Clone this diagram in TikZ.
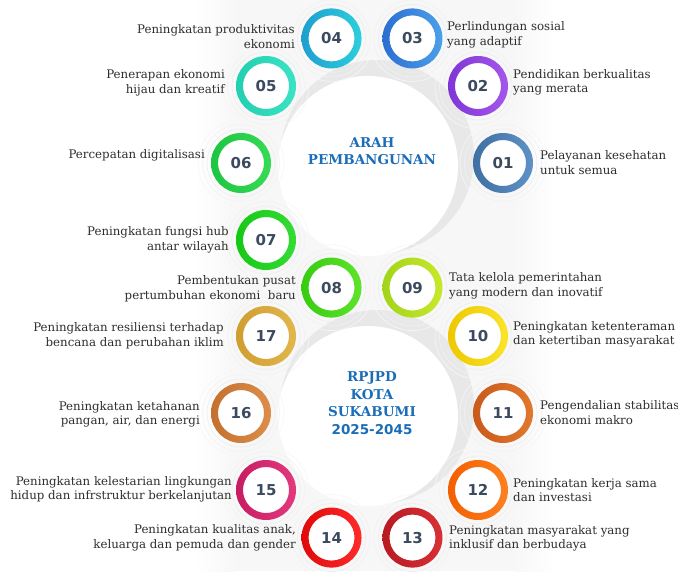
\documentclass[tikz,border=0pt]{standalone}
\usepackage{fontspec}
\setmainfont{DejaVu Serif}
\setsansfont{DejaVu Sans}
\definecolor{txtc}{HTML}{2E2E2E}
\definecolor{numc}{HTML}{3C4A60}
\definecolor{titc}{HTML}{1B6DB8}
\definecolor{c01a}{HTML}{3F6FA3}\definecolor{c01b}{HTML}{5E92C6}
\definecolor{c02a}{HTML}{7F36D6}\definecolor{c02b}{HTML}{A457EC}
\definecolor{c03a}{HTML}{2C6ED2}\definecolor{c03b}{HTML}{4BA0EA}
\definecolor{c04a}{HTML}{1E9FD0}\definecolor{c04b}{HTML}{2CCFDC}
\definecolor{c05a}{HTML}{22CFB0}\definecolor{c05b}{HTML}{3BE3C4}
\definecolor{c06a}{HTML}{1CC640}\definecolor{c06b}{HTML}{36DA55}
\definecolor{c07a}{HTML}{16C816}\definecolor{c07b}{HTML}{34DC34}
\definecolor{c08a}{HTML}{36CC12}\definecolor{c08b}{HTML}{5EE42A}
\definecolor{c09a}{HTML}{A2D41A}\definecolor{c09b}{HTML}{C8E82A}
\definecolor{c10a}{HTML}{EEC800}\definecolor{c10b}{HTML}{FAE42A}
\definecolor{c11a}{HTML}{C95A1A}\definecolor{c11b}{HTML}{E2782E}
\definecolor{c12a}{HTML}{F25F00}\definecolor{c12b}{HTML}{FF8020}
\definecolor{c13a}{HTML}{B81A22}\definecolor{c13b}{HTML}{D83036}
\definecolor{c14a}{HTML}{E00A0A}\definecolor{c14b}{HTML}{FF2A2A}
\definecolor{c15a}{HTML}{C81C62}\definecolor{c15b}{HTML}{E23A7E}
\definecolor{c16a}{HTML}{C4702E}\definecolor{c16b}{HTML}{DC8E4A}
\definecolor{c17a}{HTML}{CF9E2E}\definecolor{c17b}{HTML}{E2B64C}
\newcommand\myring[4]{%
  \foreach \rr/\cc in {43/black!3, 38.5/black!5, 34/black!7}{\draw[\cc, line width=0.6pt] (p#1) circle (\rr pt);}
  \shade[even odd rule, left color=#2, right color=#3] (p#1) circle (30pt) (p#1) circle (23pt);
  \node[numnode] (n#1) at (p#1) {#4};
}
\tikzset{
  numnode/.style={circle, fill=white, inner sep=0pt, minimum size=45pt, text=numc, font=\sffamily\bfseries\fontsize{15}{16}\selectfont},
  lbl/.style={text=txtc, inner sep=0pt, font=\fontsize{11.8}{14.5}\selectfont},
  lblL/.style={lbl, anchor=west, align=left},
  lblR/.style={lbl, anchor=east, align=right},
  titlenode/.style={text=titc, align=center, inner sep=0pt, font=\bfseries\fontsize{13.5}{17.5}\selectfont}
}
\begin{document}
\begin{tikzpicture}[x=1pt, y=-1pt]
\useasboundingbox (0,0) rectangle (678,571);
\fill[white] (0,0) rectangle (678,571);
% faint background band
\shade[left color=white, right color=black!3] (195,0) rectangle (235,571);
\fill[black!3] (235,0) rectangle (515,571);
\shade[left color=black!3, right color=white] (515,0) rectangle (555,571);
% centres
\coordinate (C1) at (372,163);
\coordinate (C2) at (372,413);
% big discs with crescent shadow
\fill[black!9] (377,157) circle (97pt);
\fill[white] (368,166) circle (90pt);
\fill[black!9] (377,407) circle (97pt);
\fill[white] (368,416) circle (90pt);
% ring positions
\path (C1) ++(0:131) coordinate (p01);
\path (C1) ++(-36:131) coordinate (p02);
\path (C1) ++(-72:131) coordinate (p03);
\path (C1) ++(-108:131) coordinate (p04);
\path (C1) ++(-144:131) coordinate (p05);
\path (C1) ++(180:131) coordinate (p06);
\path (C1) ++(144:131) coordinate (p07);
\path (C1) ++(108:131) coordinate (p08);
\path (C1) ++(72:131) coordinate (p09);
\path (C2) ++(-36:131) coordinate (p10);
\path (C2) ++(0:131) coordinate (p11);
\path (C2) ++(36:131) coordinate (p12);
\path (C2) ++(72:131) coordinate (p13);
\path (C2) ++(108:131) coordinate (p14);
\path (C2) ++(144:131) coordinate (p15);
\path (C2) ++(180:131) coordinate (p16);
\path (C2) ++(-144:131) coordinate (p17);
% rings
\myring{01}{c01a}{c01b}{01}
\myring{02}{c02a}{c02b}{02}
\myring{03}{c03a}{c03b}{03}
\myring{04}{c04a}{c04b}{04}
\myring{05}{c05a}{c05b}{05}
\myring{06}{c06a}{c06b}{06}
\myring{07}{c07a}{c07b}{07}
\myring{08}{c08a}{c08b}{08}
\myring{09}{c09a}{c09b}{09}
\myring{10}{c10a}{c10b}{10}
\myring{11}{c11a}{c11b}{11}
\myring{12}{c12a}{c12b}{12}
\myring{13}{c13a}{c13b}{13}
\myring{14}{c14a}{c14b}{14}
\myring{15}{c15a}{c15b}{15}
\myring{16}{c16a}{c16b}{16}
\myring{17}{c17a}{c17b}{17}
% titles
\node[titlenode] (arah) at (372,151) {ARAH\\PEMBANGUNAN};
\node[titlenode] (rpjpd) at (372,403) {RPJPD\\KOTA\\SUKABUMI\\{\sffamily\bfseries 2025-2045}};
% labels
\node[lblL] (l01) at (540,162.5) {Pelayanan kesehatan\\untuk semua};
\node[lblL] (l02) at (513,82.5) {Pendidikan berkualitas\\yang merata};
\node[lblL] (l03) at (447,35) {Perlindungan sosial\\yang adaptif};
\node[lblR] (l04) at (295,36.5) {Peningkatan produktivitas\\ekonomi};
\node[lblR] (l05) at (225,83) {Penerapan ekonomi\\hijau dan kreatif};
\node[lblR] (l06) at (205,155) {Percepatan digitalisasi};
\node[lblR] (l07) at (229,240) {Peningkatan fungsi hub\\antar wilayah};
\node[lblR] (l08) at (296,288.5) {Pembentukan pusat\\pertumbuhan ekonomi\ \ baru};
\node[lblL] (l09) at (449,286) {Tata kelola pemerintahan\\yang modern dan inovatif};
\node[lblL] (l10) at (513,334.5) {Peningkatan ketenteraman\\dan ketertiban masyarakat};
\node[lblL] (l11) at (540,412.5) {Pengendalian stabilitas\\ekonomi makro};
\node[lblL] (l12) at (513,490) {Peningkatan kerja sama\\dan investasi};
\node[lblL] (l13) at (449,538.5) {Peningkatan masyarakat yang\\inklusif dan berbudaya};
\node[lblR] (l14) at (296,538) {Peningkatan kualitas anak,\\keluarga dan pemuda dan gender};
\node[lblR] (l15) at (232,489.5) {Peningkatan kelestarian lingkungan\\hidup dan infrstruktur berkelanjutan};
\node[lblR] (l16) at (200,414.5) {Peningkatan ketahanan\\pangan, air, dan energi};
\node[lblR] (l17) at (224,335.5) {Peningkatan resiliensi terhadap\\bencana dan perubahan iklim};
\end{tikzpicture}
\end{document}
